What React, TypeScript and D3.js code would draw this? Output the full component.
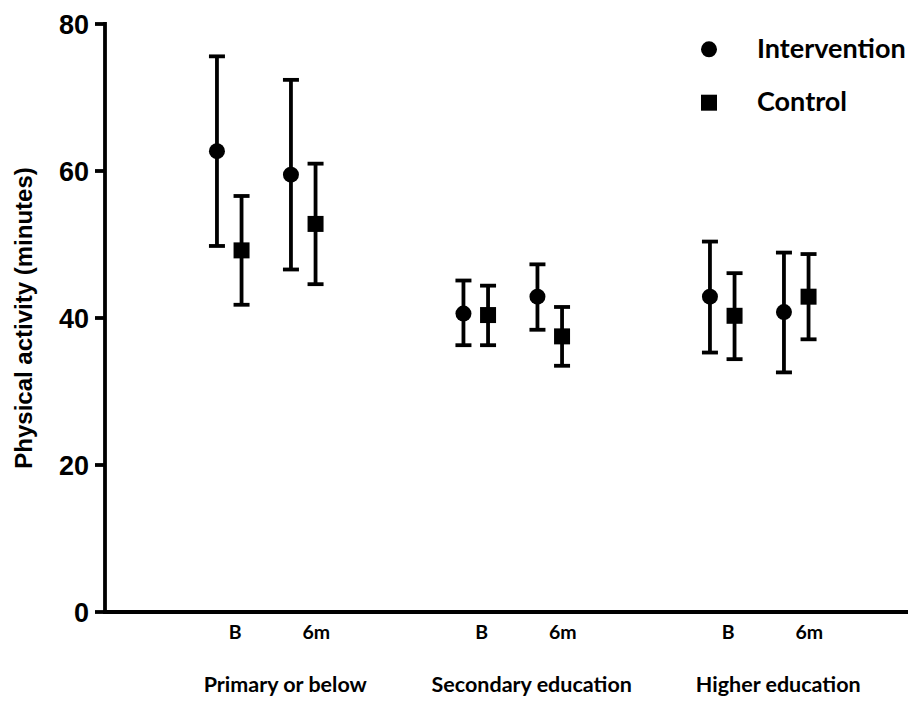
import React from "react";
import * as d3 from "d3";

// Education groups and measurement times
const groups = ["Primary or below", "Secondary education", "Higher education"];
const timepoints = ["B", "6m"];
const seriesNames = ["Intervention", "Control"];

// Mean physical activity (minutes) with lower / upper error limits,
// ordered group by group: B then 6m
const interventionMean = [62.7, 59.5, 40.6, 42.9, 42.9, 40.8];
const interventionLower = [49.8, 46.6, 36.3, 38.4, 35.3, 32.6];
const interventionUpper = [75.6, 72.4, 45.1, 47.3, 50.4, 48.9];

const controlMean = [49.2, 52.8, 40.4, 37.5, 40.3, 42.9];
const controlLower = [41.8, 44.6, 36.3, 33.5, 34.4, 37.1];
const controlUpper = [56.6, 61.0, 44.4, 41.5, 46.1, 48.7];

const yTicks = [0, 20, 40, 60, 80];

const W = 908;
const H = 701;
const axisX = 105;
const axisY = 612;
const topY = 24;
const stroke = 3.8;

const labelFont = "Lato, 'Open Sans', sans-serif";
const axisFont = "'Liberation Sans', Arial, sans-serif";

export default function App() {
  const y = d3.scaleLinear().domain([0, 80]).range([axisY, topY]);
  const xGroup = d3.scaleBand().domain(groups).range([143, 882.5]).padding(0);
  const xTime = d3.scalePoint().domain(timepoints).range([-37, 37]);
  const xSeries = d3.scalePoint().domain(seriesNames).range([-12.3, 12.3]);

  const rows = seriesNames.flatMap((s) => {
    const mean = s === "Intervention" ? interventionMean : controlMean;
    const lo = s === "Intervention" ? interventionLower : controlLower;
    const hi = s === "Intervention" ? interventionUpper : controlUpper;
    return groups.flatMap((g, gi) =>
      timepoints.map((t, ti) => {
        const i = gi * timepoints.length + ti;
        return { series: s, group: g, time: t, mean: mean[i], lo: lo[i], hi: hi[i] };
      })
    );
  });

  const cx = (g: string, t: string, s: string) =>
    (xGroup(g) as number) + xGroup.bandwidth() / 2 + (xTime(t) as number) + (xSeries(s) as number);

  const symCircle = d3.symbol().type(d3.symbolCircle).size(Math.PI * 8 * 8);
  const symSquare = d3.symbol().type(d3.symbolSquare).size(16 * 16);

  const capHalf = 8;

  return (
    <svg
      width={W}
      height={H}
      viewBox={`0 0 ${W} ${H}`}
      style={{ position: "absolute", left: 0, top: 0, background: "#fff" }}
    >
      {/* error bars and markers */}
      {rows.map((r, i) => {
        const x = cx(r.group, r.time, r.series);
        return (
          <g key={i} stroke="#000" strokeWidth={stroke} fill="#000">
            <line x1={x} x2={x} y1={y(r.hi)} y2={y(r.lo)} />
            <line x1={x - capHalf} x2={x + capHalf} y1={y(r.hi)} y2={y(r.hi)} />
            <line x1={x - capHalf} x2={x + capHalf} y1={y(r.lo)} y2={y(r.lo)} />
            <path
              d={(r.series === "Intervention" ? symCircle : symSquare)() as string}
              transform={`translate(${x},${y(r.mean)})`}
              stroke="none"
            />
          </g>
        );
      })}

      {/* y axis */}
      <line x1={axisX} x2={axisX} y1={topY - stroke / 2} y2={axisY + stroke / 2} stroke="#000" strokeWidth={stroke} />
      {yTicks.map((t) => (
        <g key={t}>
          <line x1={95} x2={axisX} y1={y(t)} y2={y(t)} stroke="#000" strokeWidth={stroke} />
          <text
            x={89}
            y={y(t)}
            dy="0.36em"
            textAnchor="end"
            fontFamily={axisFont}
            fontWeight="bold"
            fontSize={27}
          >
            {t}
          </text>
        </g>
      ))}
      <text
        transform={`translate(32,${318}) rotate(-90)`}
        textAnchor="middle"
        fontFamily={axisFont}
        fontWeight="bold"
        fontSize={24}
      >
        Physical activity (minutes)
      </text>

      {/* x axis */}
      <line x1={axisX - stroke / 2} x2={W} y1={axisY} y2={axisY} stroke="#000" strokeWidth={stroke} />
      {groups.map((g) => {
        const c = (xGroup(g) as number) + xGroup.bandwidth() / 2;
        return (
          <g key={g} fontFamily={labelFont} fontWeight="bold" textAnchor="middle">
            {timepoints.map((t) => (
              <text key={t} x={c + (xTime(t) as number) + (t === "B" ? 6 : 13)} y={639} fontSize={19.5}>
                {t}
              </text>
            ))}
            <text x={c + 19} y={692} fontSize={21.5}>
              {g}
            </text>
          </g>
        );
      })}

      {/* legend */}
      {seriesNames.map((s, i) => (
        <g key={s} transform={`translate(0,${i * 53.4})`}>
          <path
            d={(s === "Intervention" ? symCircle : symSquare)() as string}
            transform={`translate(709,${49.3})`}
            fill="#000"
          />
          <text x={757} y={58} fontFamily={labelFont} fontWeight="bold" fontSize={27}>
            {s}
          </text>
        </g>
      ))}
    </svg>
  );
}
